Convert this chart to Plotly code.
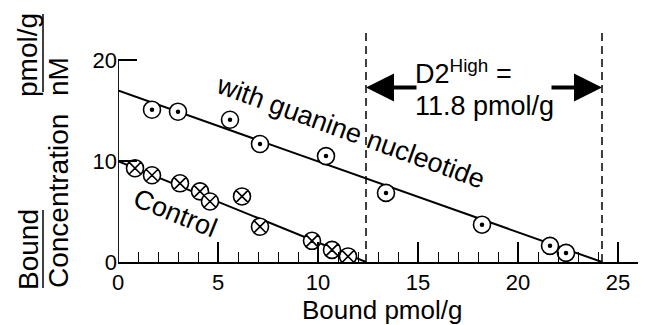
import plotly.graph_objects as go

# ---- data ----
guanine_x = [1.7, 3.0, 5.6, 7.1, 10.4, 13.4, 18.2, 21.6, 22.4]
guanine_y = [15.1, 14.9, 14.1, 11.7, 10.5, 6.85, 3.7, 1.6, 0.9]
control_x = [0.85, 1.7, 3.1, 4.1, 4.6, 6.2, 7.1, 9.7, 10.7, 11.5]
control_y = [9.3, 8.6, 7.8, 7.0, 6.0, 6.5, 3.5, 2.1, 1.2, 0.55]

# fitted Scatchard lines (y-intercept, x-intercept = Bmax)
control_yint, control_bmax = 10.0, 12.4
guanine_yint, guanine_bmax = 17.0, 24.2

x_ticks = [0, 5, 10, 15, 20, 25]
y_ticks = [0, 10, 20]

FONT = "Liberation Sans, Arial, Helvetica, sans-serif"

fig = go.Figure()

# regression lines
fig.add_trace(go.Scatter(x=[0, control_bmax], y=[control_yint, 0], mode="lines",
                         line=dict(color="black", width=2), hoverinfo="skip"))
fig.add_trace(go.Scatter(x=[0, guanine_bmax], y=[guanine_yint, 0], mode="lines",
                         line=dict(color="black", width=2), hoverinfo="skip"))

# control points: circle with x
fig.add_trace(go.Scatter(x=control_x, y=control_y, mode="markers",
                         marker=dict(symbol="circle-x", size=17, color="white",
                                     line=dict(color="black", width=1.6))))
# guanine points: circle with dot
fig.add_trace(go.Scatter(x=guanine_x, y=guanine_y, mode="markers",
                         marker=dict(symbol="circle", size=17, color="white",
                                     line=dict(color="black", width=1.6))))
fig.add_trace(go.Scatter(x=guanine_x, y=guanine_y, mode="markers",
                         marker=dict(symbol="circle", size=4.5, color="black")))

shapes = []
# y axis line only up to 20
shapes.append(dict(type="line", xref="x", yref="y", x0=0, x1=0, y0=0, y1=20,
                   line=dict(color="black", width=1.8)))
# dashed vertical lines at the two Bmax values
for xb in (control_bmax, guanine_bmax):
    shapes.append(dict(type="line", xref="x", yref="y", x0=xb, x1=xb, y0=0, y1=22.7,
                       line=dict(color="black", width=1.5, dash="8px,5px")))

# reference pixel -> paper fraction (plot area spans x 118..646, y 30..262)
def px(X):
    return (X - 118) / 528.0

def py(Y):
    return (262 - Y) / 232.0

for (y0, y1) in ((210, 288), (14, 92)):
    shapes.append(dict(type="line", xref="paper", yref="paper",
                       x0=px(43), x1=px(43), y0=py(y0), y1=py(y1),
                       line=dict(color="black", width=1.5)))

C = dict(xanchor="center", yanchor="middle", showarrow=False)
annotations = [
    dict(x=11.64, y=12.9, xref="x", yref="y", text="with guanine nucleotide",
         textangle=20, font=dict(size=27), **C),
    dict(x=2.85, y=4.9, xref="x", yref="y", text="Control",
         textangle=22, font=dict(size=27), **C),
    dict(x=px(413), y=py(72), xref="paper", yref="paper", xanchor="left", yanchor="middle",
         text="D2<sup>High</sup> =", showarrow=False, font=dict(size=27)),
    dict(x=px(413), y=py(106), xref="paper", yref="paper", xanchor="left", yanchor="middle",
         text="11.8 pmol/g", showarrow=False, font=dict(size=27)),
    # arrows
    dict(x=control_bmax, y=17.3, ax=15.0, ay=17.3, xref="x", yref="y", axref="x", ayref="y",
         text="", showarrow=True, arrowhead=2, arrowwidth=4, arrowsize=1.4,
         arrowcolor="black", standoff=0),
    dict(x=guanine_bmax, y=17.3, ax=21.6, ay=17.3, xref="x", yref="y", axref="x", ayref="y",
         text="", showarrow=True, arrowhead=2, arrowwidth=4, arrowsize=1.4,
         arrowcolor="black", standoff=0),
    # axis titles
    dict(x=px(382), y=py(310), xref="paper", yref="paper", text="Bound pmol/g",
         font=dict(size=26), **C),
    dict(x=px(28), y=py(250), xref="paper", yref="paper", text="Bound",
         textangle=-90, font=dict(size=28), **C),
    dict(x=px(58), y=py(201), xref="paper", yref="paper", text="Concentration",
         textangle=-90, font=dict(size=28), **C),
    dict(x=px(28), y=py(55), xref="paper", yref="paper", text="pmol/g",
         textangle=-90, font=dict(size=28), **C),
    dict(x=px(58), y=py(77), xref="paper", yref="paper", text="nM",
         textangle=-90, font=dict(size=28), **C),
]

# the page body has an 8px margin: the figure starts at window pixel (8, 8)
fig.update_layout(
    template="none",
    width=638, height=317,
    margin=dict(l=110, r=0, t=22, b=63, autoexpand=False),
    paper_bgcolor="white", plot_bgcolor="white",
    showlegend=False,
    font=dict(family=FONT, color="black", size=22),
    shapes=shapes, annotations=annotations,
    xaxis=dict(range=[0, 26.4], tickvals=x_ticks, ticks="inside", ticklen=20,
               tickwidth=1.5, tickcolor="black", showline=True, linecolor="black",
               linewidth=1.8, showgrid=False, zeroline=False, automargin=False,
               tickfont=dict(size=22),
               minor=dict(dtick=1, ticks="inside", ticklen=10, tickwidth=1.3,
                          tickcolor="black", showgrid=False)),
    yaxis=dict(range=[0, 23], tickvals=y_ticks, ticks="inside", ticklen=19,
               tickwidth=1.5, tickcolor="black", showline=False, showgrid=False,
               zeroline=False, automargin=False, ticksuffix="\u00a0",
               tickfont=dict(size=22)),
)

fig.write_html("out.html")
